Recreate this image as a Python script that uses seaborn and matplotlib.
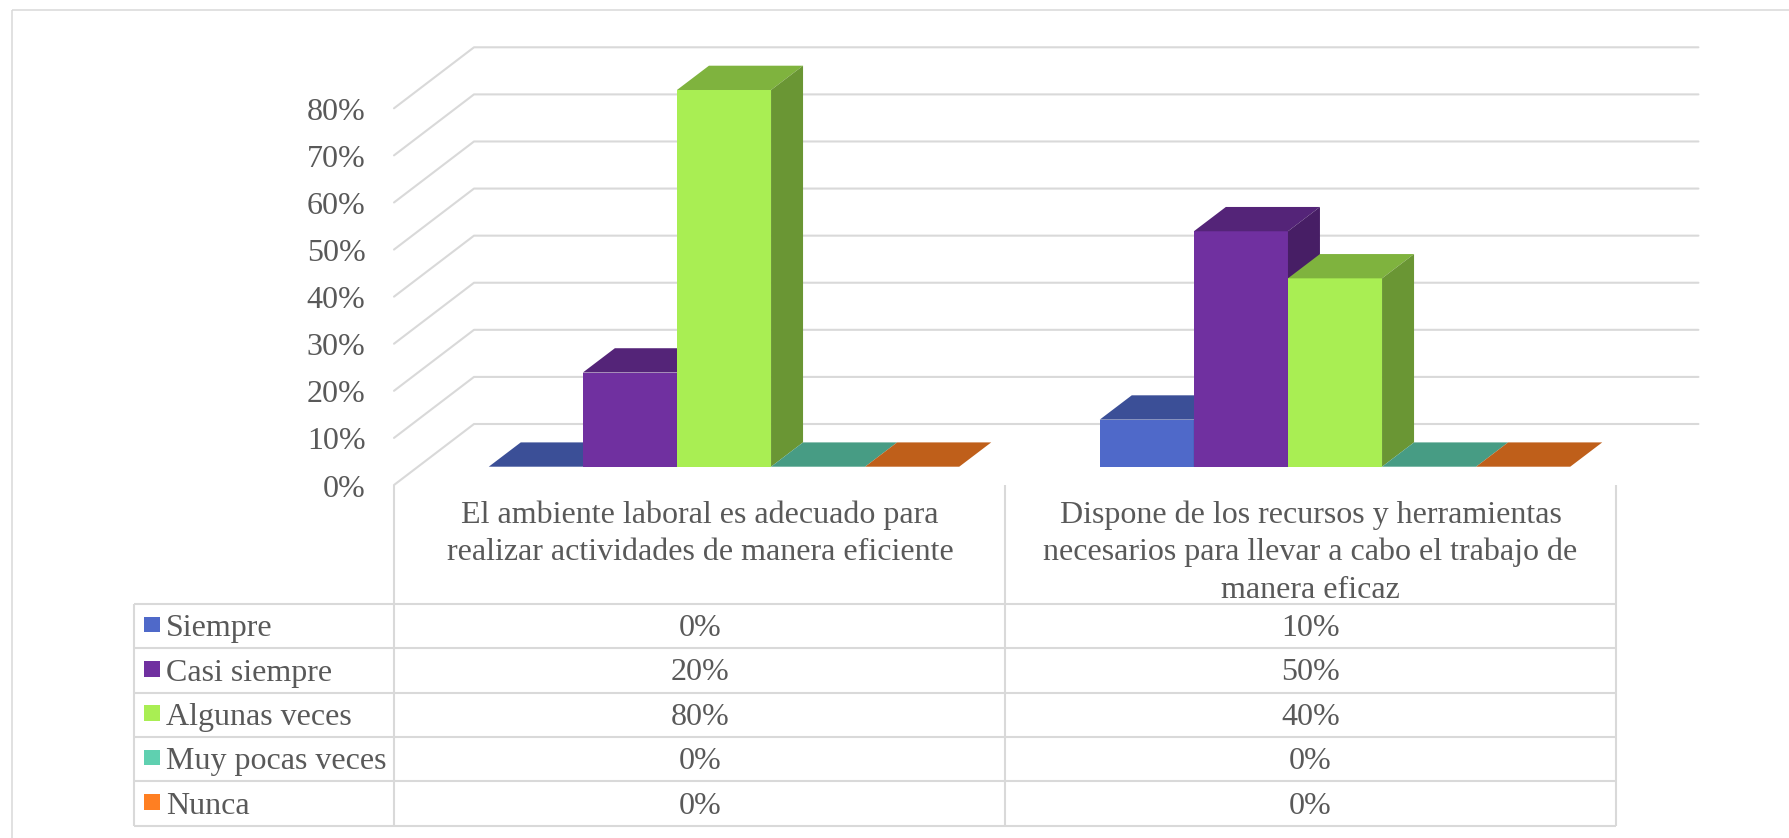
import matplotlib
matplotlib.use("Agg")
import matplotlib.pyplot as plt
from matplotlib.lines import Line2D
from matplotlib.patches import Rectangle
from matplotlib.transforms import ScaledTranslation
import pandas as pd
import seaborn as sns

# Survey results (percent of respondents)
categorias = [
    "El ambiente laboral es adecuado para\nrealizar actividades de manera eficiente",
    "Dispone de los recursos y herramientas\nnecesarios para llevar a cabo el trabajo de\nmanera eficaz",
]
series = ["Siempre", "Casi siempre", "Algunas veces", "Muy pocas veces", "Nunca"]
valores_ambiente = [0, 20, 80, 0, 0]
valores_recursos = [10, 50, 40, 0, 0]
colores = ["#4F69C9", "#7030A0", "#A9EE53", "#5FD0B0", "#FF7F22"]
marcas_eje = [0, 10, 20, 30, 40, 50, 60, 70, 80]

W, H = 1789, 838
DPI = 100
TEXTO = "#595959"
REJILLA = "#D9D9D9"
FUENTE = 23.0
GROSOR = 1.5

sns.set_theme(style="white")
plt.rcParams["font.family"] = ["Liberation Serif", "DejaVu Serif"]

fig = plt.figure(figsize=(W / DPI, H / DPI), dpi=DPI, facecolor="white")


def fx(x):
    return x / W


def fy(y):
    return 1 - y / H


def eje(izq, der, base, alto):
    """Axes placed by pixel edges, measured from the top-left corner."""
    return fig.add_axes([fx(izq), fy(base), (der - izq) / W, alto / H])


def linea(xs, ys, color=REJILLA, lw=GROSOR):
    fig.add_artist(Line2D([fx(x) for x in xs], [fy(y) for y in ys],
                          color=color, lw=lw, solid_capstyle="butt"))


# Plot planes: the front of the floor carries the ticks, the bars sit further in
X0, X1, X2 = 394, 1005, 1616
ALTO = 376.7
PX_X = (X2 - X0) / 2
PX_Y = ALTO / 80

ax = eje(X0, X2, 485, ALTO)
ax.set_xlim(-0.5, 1.5)
ax.set_ylim(0, 80)
ax.patch.set_alpha(0)
sns.despine(ax=ax, left=True, bottom=True)
ax.set_xticks([])
ax.set_yticks(marcas_eje)
ax.set_yticklabels([f"{m}%" for m in marcas_eje], fontsize=FUENTE, color=TEXTO)
ax.tick_params(axis="y", length=0, pad=20.5)
bajada = ScaledTranslation(0, -0.4 / 72, fig.dpi_scale_trans)
for marca in ax.get_yticklabels():
    marca.set_transform(marca.get_transform() + bajada)

# Side and back walls of the 3-D box
fondo_x, fondo_y = 80 / PX_X, 61 / PX_Y
for m in marcas_eje:
    ax.plot([-0.5, -0.5 + fondo_x, 1.5 + fondo_x + 0.004],
            [m, m + fondo_y, m + fondo_y],
            color=REJILLA, lw=GROSOR, clip_on=False, zorder=1)

# Bars, with their top and side faces extruded from the drawn rectangles
df = pd.DataFrame({
    "categoria": [c for c in categorias for _ in series],
    "serie": series * 2,
    "valor": valores_ambiente + valores_recursos,
})

ax_barras = eje(X0 + 24.5, X2 + 24.5, 466.7, ALTO)
sns.barplot(data=df, x="categoria", y="valor", hue="serie", hue_order=series,
            order=categorias, palette=colores, saturation=1, width=0.77, gap=0,
            legend=False, linewidth=0, ax=ax_barras)
ax_barras.set_xlim(-0.5, 1.5)
ax_barras.set_ylim(0, 80)
ax_barras.axis("off")

prof_x, prof_y = 32 / PX_X, 24.3 / PX_Y
caras = []
for contenedor, color in zip(ax_barras.containers, colores):
    for barra in contenedor:
        caras.append((barra, color))
caras.sort(key=lambda c: c[0].get_x())


def tono(color, factor):
    r, g, b = matplotlib.colors.to_rgb(color)
    return (r * factor, g * factor, b * factor)


for orden, (barra, color) in enumerate(caras):
    z = 3 + orden
    a = barra.get_x()
    b = a + barra.get_width()
    h = barra.get_height()
    barra.set_zorder(z)
    ax_barras.fill([a, b, b + prof_x, a + prof_x], [h, h, h + prof_y, h + prof_y],
                   color=tono(color, 0.75), lw=0, clip_on=False, zorder=z)
    if h > 0:
        ax_barras.fill([b, b + prof_x, b + prof_x, b], [0, prof_y, h + prof_y, h],
                       color=tono(color, 0.63), lw=0, clip_on=False, zorder=z)

# Data table under the plot
filas_y = [603.7, 648.3, 692.7, 737, 781.3, 826]
TABLA_IZQ = 134

for y in filas_y:
    linea([TABLA_IZQ, X2], [y, y])
linea([TABLA_IZQ, TABLA_IZQ], [filas_y[0], filas_y[-1]])
for x in (X0, X1, X2):
    linea([x, x], [485, filas_y[-1]])

centros = [(X0 + X1) / 2 + 0.5, (X1 + X2) / 2]
for centro, etiqueta in zip(centros, categorias):
    for i, renglon in enumerate(etiqueta.split("\n")):
        fig.text(fx(centro), fy(522.5 + 37.6 * i), renglon, ha="center", va="baseline",
                 fontsize=FUENTE, color=TEXTO)

for i, (nombre, color) in enumerate(zip(series, colores)):
    arriba, abajo = filas_y[i], filas_y[i + 1]
    medio = (arriba + abajo) / 2
    fig.add_artist(Rectangle((fx(144.2), fy(medio - 1.5 + 7.8)), 15.6 / W, 15.7 / H,
                             transform=fig.transFigure, facecolor=color, edgecolor="none"))
    fig.text(fx(166), fy(medio + 10), nombre, ha="left", va="baseline",
             fontsize=FUENTE, color=TEXTO)
    for centro, valor in zip(centros, (valores_ambiente[i], valores_recursos[i])):
        fig.text(fx(centro), fy(medio + 10), f"{valor}%", ha="center", va="baseline",
                 fontsize=FUENTE, color=TEXTO)

# Outer frame of the chart area
linea([12, W], [10, 10], lw=1.1)
linea([12, 12], [10, H], lw=1.1)

fig.savefig("out.png", dpi=DPI, facecolor="white")
